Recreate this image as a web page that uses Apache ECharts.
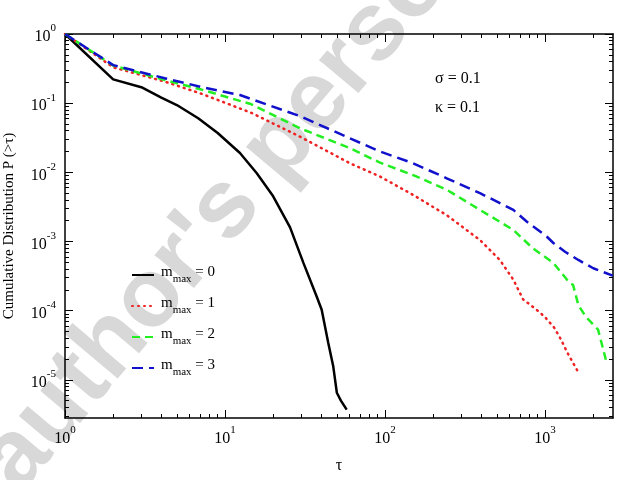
<!DOCTYPE html>
<html>
<head>
<meta charset="utf-8">
<script src="https://cdn.jsdelivr.net/npm/echarts@6/dist/echarts.min.js"></script>
<style>
  html, body { margin: 0; padding: 0; background: #fff; }
  #chart { width: 623px; height: 480px; }
</style>
</head>
<body>
<div id="chart"></div>
<script>
// values
const tau0 = [1, 2, 3, 4, 5, 6.8, 9, 12.4, 15.8, 20, 25.5, 30.9, 37.4, 40.2, 44.2, 47.5, 50, 53, 57.6]
const p0 = [1, 0.221, 0.17, 0.12, 0.094, 0.0605, 0.037, 0.019, 0.0097, 0.0045, 0.0016, 0.00049, 0.00016, 0.000103, 3.4e-5, 1.55e-5, 6.5e-6, 5e-6, 3.7e-6]

const tau1 = [1, 2, 4.2, 7, 14.5, 29.4, 60.4, 93, 150, 243, 392, 522, 634, 730, 859, 993, 1146, 1260, 1384, 1616]
const p1 = [1, 0.33, 0.205, 0.139, 0.073, 0.0328, 0.0135, 0.0087, 0.0047, 0.0024, 0.00105, 0.00054, 0.00028, 0.000145, 0.000109, 8.2e-5, 5.6e-5, 3.8e-5, 2.43e-5, 1.28e-5]

const tau2 = [1, 2, 4.2, 7, 14.5, 29.4, 60.4, 93, 150, 243, 392, 634, 837, 1128, 1426, 1497, 1616, 1797, 2146, 2256, 2400]
const p2 = [1, 0.35, 0.216, 0.159, 0.097, 0.0434, 0.0223, 0.0138, 0.0091, 0.0056, 0.00286, 0.00147, 0.0008, 0.00049, 0.00025, 0.000236, 0.00012, 8.2e-5, 5.3e-5, 3.4e-5, 1.95e-5]

const tau3 = [1, 2, 4.2, 7, 12.4, 29.4, 60.4, 93, 150, 243, 392, 634, 768, 1024, 1128, 1334, 1616, 2003, 2650]
const p3 = [1, 0.355, 0.229, 0.173, 0.131, 0.065, 0.031, 0.02, 0.0135, 0.0082, 0.005, 0.00286, 0.00194, 0.00118, 0.00095, 0.00071, 0.00054, 0.00041, 0.00032]

const seriesNames = ['m_max = 0', 'm_max = 1', 'm_max = 2', 'm_max = 3']
const xMajorTicks = [1, 10, 100, 1000]
const yMajorTicks = [1e-5, 1e-4, 1e-3, 1e-2, 1e-1, 1]
const xMin = 1, xMax = 2660
const yMin = 2.8e-6, yMax = 1

const SERIF = '"Liberation Serif", "DejaVu Serif", serif'

// minor ticks at 2..9 of every decade
const minorTicks = (lo, hi) => {
  const out = []
  for (let e = Math.floor(Math.log10(lo)); e <= Math.ceil(Math.log10(hi)); e++) {
    for (let k = 2; k <= 9; k++) {
      const v = k * Math.pow(10, e)
      if (v >= lo && v <= hi) out.push(v)
    }
  }
  return out
}

const powLabel = (v) => '{b|10}{s|' + Math.round(Math.log10(v)) + '}'
const powRich = {
  b: { fontFamily: SERIF, fontSize: 16, color: '#000', lineHeight: 22, verticalAlign: 'bottom' },
  s: { fontFamily: SERIF, fontSize: 11, color: '#000', lineHeight: 11, verticalAlign: 'top' },
}

const makeAxis = (pos, min, max, major, isMajor, withLabel, extra) => Object.assign({
  type: 'log',
  position: pos,
  min: min,
  max: max,
  axisLine: { show: true, onZero: false, lineStyle: { color: isMajor ? '#000' : 'rgba(0,0,0,0)', width: 1.5 } },
  splitLine: { show: false },
  axisTick: {
    show: true,
    inside: true,
    length: isMajor ? 8 : 4,
    customValues: isMajor ? major : minorTicks(min, max),
    lineStyle: { color: '#000', width: 1 },
  },
  axisLabel: withLabel
    ? { show: true, customValues: major, formatter: powLabel, rich: powRich, margin: pos === 'left' ? 9 : 7 }
    : { show: false },
}, extra || {})

const xAxes = [
  makeAxis('bottom', xMin, xMax, xMajorTicks, true, true, {
    name: 'τ', nameLocation: 'middle', nameGap: 40,
    nameTextStyle: { fontFamily: SERIF, fontSize: 16, color: '#000' },
  }),
  makeAxis('bottom', xMin, xMax, xMajorTicks, false, false),
  makeAxis('top', xMin, xMax, xMajorTicks, true, false),
  makeAxis('top', xMin, xMax, xMajorTicks, false, false),
]
const yAxes = [
  makeAxis('left', yMin, yMax, yMajorTicks, true, true, {
    name: 'Cumulative Distribution P (>τ)', nameLocation: 'middle', nameGap: 48,
    nameTextStyle: { fontFamily: SERIF, fontSize: 15, color: '#000' },
  }),
  makeAxis('left', yMin, yMax, yMajorTicks, false, false),
  makeAxis('right', yMin, yMax, yMajorTicks, true, false),
  makeAxis('right', yMin, yMax, yMajorTicks, false, false),
]

const zip = (xs, ys) => xs.map((x, i) => [x, ys[i]])
const curves = [
  { x: tau0, y: p0, color: '#000000', type: 'solid' },
  { x: tau1, y: p1, color: '#ee2222', type: [1, 5] },
  { x: tau2, y: p2, color: '#22ee22', type: [8, 5] },
  { x: tau3, y: p3, color: '#1111cc', type: [11, 6] },
]

const chart = echarts.init(document.getElementById('chart'))
chart.setOption({
  animation: false,
  backgroundColor: '#fff',
  grid: { left: 65, right: 10, top: 34, bottom: 62, outerBoundsMode: 'none' },
  xAxis: xAxes,
  yAxis: yAxes,
  legend: {
    orient: 'vertical',
    left: 126,
    top: 260,
    itemWidth: 22,
    itemHeight: 14,
    itemGap: 11,
    data: seriesNames,
    itemStyle: { opacity: 0 },
    formatter: (name) => '{m|m}{sub|max}{m| = ' + name.split('= ')[1] + '}',
    textStyle: {
      padding: [0, 0, 0, 2],
      rich: {
        m: { fontFamily: SERIF, fontSize: 15, color: '#000', lineHeight: 20, verticalAlign: 'top' },
        sub: { fontFamily: SERIF, fontSize: 11, color: '#000', lineHeight: 11, verticalAlign: 'bottom' },
      },
    },
  },
  graphic: [
    {
      type: 'text', x: 36, y: 509, rotation: 0.87, z: -10, silent: true,
      style: { text: "author's personal copy", font: 'bold 97px "Liberation Sans", Arial, sans-serif',
        fill: '#d8d8d8', textAlign: 'left', textVerticalAlign: 'bottom' },
    },
    {
      type: 'text', x: 435, y: 79,
      style: { text: 'σ = 0.1', font: '16px ' + SERIF, fill: '#000', textVerticalAlign: 'middle' },
    },
    {
      type: 'text', x: 435, y: 108,
      style: { text: 'κ = 0.1', font: '16px ' + SERIF, fill: '#000', textVerticalAlign: 'middle' },
    },
  ],
  series: curves.map((c, i) => ({
    name: seriesNames[i],
    type: 'line',
    xAxisIndex: 0,
    yAxisIndex: 0,
    data: zip(c.x, c.y),
    symbol: 'none',
    clip: true,
    lineStyle: { color: c.color, width: 2.5, type: c.type, cap: i === 1 ? 'round' : 'butt' },
    itemStyle: { color: c.color },
  })),
})
</script>
</body>
</html>
